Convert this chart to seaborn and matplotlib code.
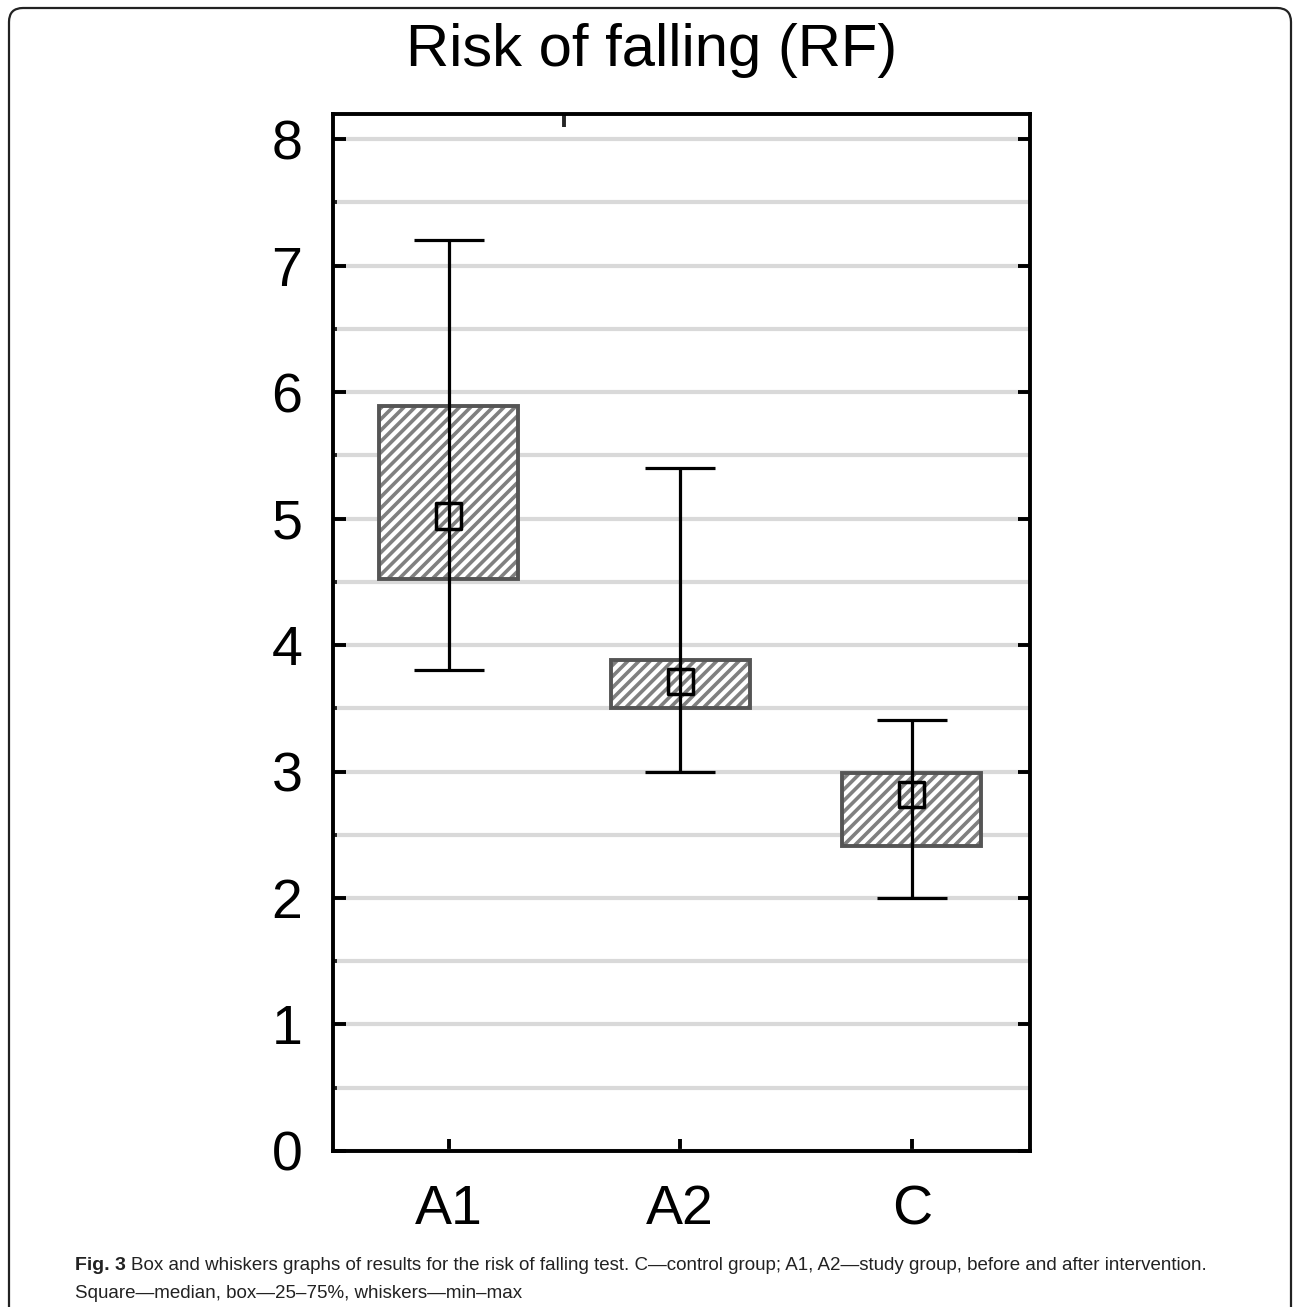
import matplotlib
matplotlib.use("Agg")
import matplotlib.pyplot as plt
from matplotlib.patches import FancyBboxPatch
from matplotlib.ticker import MultipleLocator, FixedLocator
from matplotlib.transforms import IdentityTransform
import seaborn as sns
import pandas as pd

# values
groups = ["A1", "A2", "C"]
q1 = [4.52, 3.50, 2.41]
q3 = [5.89, 3.88, 2.99]
medians = [5.02, 3.71, 2.82]
mins = [3.80, 3.00, 2.00]
maxs = [7.20, 5.40, 3.41]

sns.set_style("white")
plt.rcParams["font.family"] = ["Liberation Sans", "DejaVu Sans"]
plt.rcParams["hatch.linewidth"] = 2.6
plt.rcParams["hatch.color"] = "#808080"

df = pd.DataFrame({"group": groups, "median": medians, "q1": q1, "q3": q3,
                   "lo": mins, "hi": maxs})

fig = plt.figure(figsize=(12.93, 13.07), dpi=100)
ax = fig.add_axes([0.2575, 0.1194, 0.539, 0.7934])

heights = df["q3"] - df["q1"]
# hatched fill, then the dark outline on top
ax.bar(df["group"], heights, bottom=df["q1"], width=0.6, color="white",
       edgecolor="#808080", linewidth=0, hatch="///", zorder=2)
ax.bar(df["group"], heights, bottom=df["q1"], width=0.6, fill=False,
       edgecolor="#555555", linewidth=2.8, zorder=3)

# whiskers min-max
ax.errorbar(df["group"], df["median"],
            yerr=[df["median"] - df["lo"], df["hi"] - df["median"]],
            fmt="none", ecolor="black", elinewidth=2.3, capsize=25,
            capthick=2.3, zorder=4)

sns.scatterplot(data=df, x="group", y="median", marker="s", s=330,
                facecolor="none", edgecolor="black", linewidth=2.5,
                zorder=5, ax=ax)

ax.set_xlim(-0.5, 2.51)
ax.set_ylim(0, 8.2)
ax.set_yticks(range(0, 9))
ax.yaxis.set_minor_locator(MultipleLocator(0.5))
ax.xaxis.set_minor_locator(FixedLocator([0.5]))
ax.grid(axis="y", which="both", color="#d9d9d9", linewidth=3, zorder=0)
ax.grid(axis="x", visible=False)
ax.set_axisbelow(True)
ax.set_xlabel("")
ax.set_ylabel("")

for sp in ax.spines.values():
    sp.set_visible(True)
    sp.set_color("black")
    sp.set_linewidth(2.8)

ax.tick_params(axis="y", which="major", direction="in", left=True, right=True,
               length=9, width=2.8, labelsize=40, pad=22, colors="black")
ax.tick_params(axis="y", which="minor", direction="in", left=True, right=False,
               length=3, width=2.8)
ax.tick_params(axis="x", which="major", direction="in", bottom=True, top=False,
               length=9, width=2.8, labelsize=40, pad=24, colors="black")
ax.tick_params(axis="x", which="minor", direction="in", bottom=False, top=True,
               length=9, width=2.8)

fig.text(0.504, 1 - 50 / 1307, "Risk of falling (RF)", ha="center", va="center",
         fontsize=43, color="black")

fig.text(75 / 1293, 1 - 1265 / 1307, "Fig. 3", ha="left", va="center",
         fontsize=14, fontweight="bold", color="#222222")
fig.text(131 / 1293, 1 - 1265 / 1307,
         "Box and whiskers graphs of results for the risk of falling test. "
         "C\u2014control group; A1, A2\u2014study group, before and after intervention.",
         ha="left", va="center", fontsize=13.5, color="#222222")
fig.text(75 / 1293, 1 - 1293 / 1307,
         "Square\u2014median, box\u201425\u201375%, whiskers\u2014min\u2013max",
         ha="left", va="center", fontsize=13.5, color="#222222")

frame = FancyBboxPatch((9, -30), 1282, 1307 - 8 + 30,
                       boxstyle="round,pad=0,rounding_size=14",
                       transform=IdentityTransform(), fill=False,
                       edgecolor="#222222", linewidth=1.6)
fig.patches.append(frame)

fig.savefig("out.png", dpi=100)
